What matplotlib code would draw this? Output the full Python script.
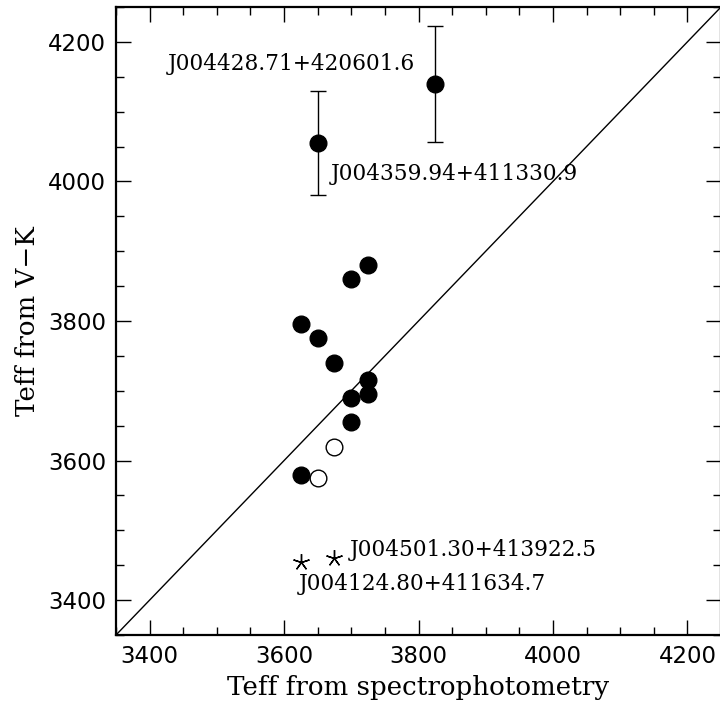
import numpy as np
import matplotlib
matplotlib.use("Agg")
import matplotlib.pyplot as plt
from matplotlib.ticker import MultipleLocator

# filled circles: Teff(spectrophotometry), Teff(V-K)
filled_x = [3725, 3700, 3625, 3650, 3675, 3725, 3725, 3700, 3700, 3625]
filled_y = [3880, 3860, 3795, 3775, 3740, 3715, 3695, 3690, 3655, 3580]

# open circles
open_x = [3675, 3650]
open_y = [3620, 3575]

# points with error bars
err_x = [3650, 3825]
err_y = [4055, 4140]
err_dy = [75, 83]

# asterisks
star_x = [3625, 3675]
star_y = [3455, 3460]

# labels: text, x, y, horizontal alignment
names = ["J004428.71+420601.6", "J004359.94+411330.9",
         "J004501.30+413922.5", "J004124.80+411634.7"]
name_x = [3795, 3670, 3697, 3622]
name_y = [4168, 4011, 3472, 3423]
name_ha = ["right", "left", "left", "left"]

lo, hi = 3350, 4250

fig = plt.figure(figsize=(7.2, 7.05), dpi=100)
ax = fig.add_axes([116/720, 70/705, 605/720, 628/705])

ax.plot([lo, hi], [lo, hi], color="black", lw=1.0)
ax.errorbar(err_x, err_y, yerr=err_dy, fmt="o", color="black", ms=12,
            capsize=6, elinewidth=1.0, capthick=1.0)
ax.plot(filled_x, filled_y, "o", color="black", ms=12)
ax.plot(open_x, open_y, "o", mfc="white", mec="black", mew=1.0, ms=12)
ax.plot(star_x, star_y, ls="none", marker=(5, 2, 0), color="black", ms=12, mew=1.0)

for t, x, y, ha in zip(names, name_x, name_y, name_ha):
    ax.text(x, y, t, ha=ha, va="center", family="DejaVu Serif", fontsize=15.6)

ax.set_xlim(lo, hi)
ax.set_ylim(lo, hi)
ax.xaxis.set_major_locator(MultipleLocator(200))
ax.xaxis.set_minor_locator(MultipleLocator(50))
ax.yaxis.set_major_locator(MultipleLocator(200))
ax.yaxis.set_minor_locator(MultipleLocator(50))
ax.tick_params(which="both", direction="in", top=True, right=True, width=1.0)
ax.tick_params(which="major", length=11, pad=7, labelsize=16.5)
ax.tick_params(which="minor", length=6)
for s in ax.spines.values():
    s.set_linewidth(1.6)

ax.set_xlabel("Teff from spectrophotometry", family="DejaVu Serif", fontsize=18.8, labelpad=5)
ax.set_ylabel("Teff from V\u2212K", family="DejaVu Serif", fontsize=18.8, labelpad=6)

fig.savefig("out.png", dpi=100)
